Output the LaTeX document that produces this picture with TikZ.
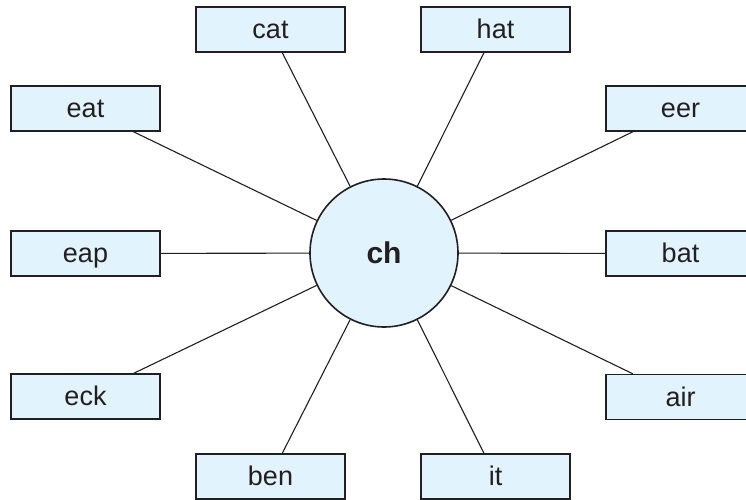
\documentclass[tikz,border=0pt]{standalone}
\usepackage{fontspec}
\setmainfont{Liberation Sans}
\definecolor{boxfill}{HTML}{E1F3FD}
\definecolor{edge}{HTML}{231F20}
\begin{document}
\begin{tikzpicture}[x=1pt,y=-1pt,
  wordbox/.style={draw=edge, line width=1.4pt, fill=boxfill, minimum width=149pt, minimum height=45pt, inner sep=0pt, text height=18pt, text depth=0pt, font=\fontsize{27}{31}\selectfont, text=edge},
  hub/.style={circle, draw=edge, line width=1.6pt, fill=boxfill, minimum size=148pt, inner sep=0pt, text height=20pt, text depth=0pt, font=\fontsize{30}{34}\selectfont\bfseries, text=edge},
  spoke/.style={draw=edge, line width=1.1pt}]
\useasboundingbox (0,0) rectangle (746,500);
\node[hub] (c) at (384,253) {ch};
\node[wordbox] (cat) at (270.5,29.5) {cat};
\node[wordbox] (hat) at (495.5,29.5) {hat};
\node[wordbox] (eat) at (85.5,108.5) {eat};
\node[wordbox] (eer) at (680.5,108.5) {eer};
\node[wordbox] (eap) at (85.5,253.5) {eap};
\node[wordbox] (bat) at (680.5,253.5) {bat};
\node[wordbox] (eck) at (85.5,396.5) {eck};
\node[wordbox] (air) at (680.5,397) {air};
\node[wordbox] (ben) at (270.5,476.5) {ben};
\node[wordbox] (it) at (495.5,476.5) {it};
\foreach \n in {cat,hat,eat,eer,eap,bat,eck,air,ben,it}
  \draw[spoke] (\n) -- (c);
\end{tikzpicture}
\end{document}
